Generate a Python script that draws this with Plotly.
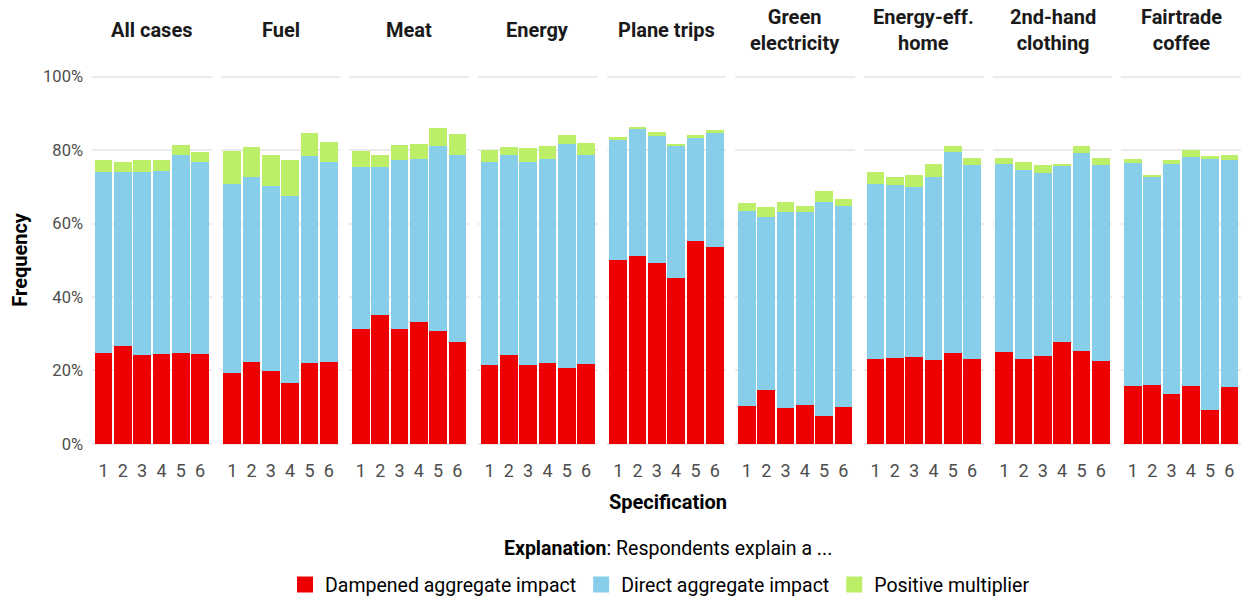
import plotly.graph_objects as go
from plotly.subplots import make_subplots

panels = ["All cases", "Fuel", "Meat", "Energy", "Plane trips",
          "Green<br>electricity", "Energy-eff.<br>home", "2nd-hand<br>clothing", "Fairtrade<br>coffee"]
specs = [1, 2, 3, 4, 5, 6]

# Cumulative tops (percent): dampened, dampened+direct, total
damp = [
    [24.7, 26.6, 24.2, 24.5, 24.7, 24.5],
    [19.3, 22.3, 19.8, 16.5, 22.0, 22.3],
    [31.3, 35.1, 31.3, 33.2, 30.7, 27.7],
    [21.5, 24.2, 21.5, 22.0, 20.6, 21.7],
    [50.1, 51.2, 49.3, 45.2, 55.3, 53.6],
    [10.3, 14.6, 9.7, 10.5, 7.5, 10.0],
    [23.1, 23.4, 23.6, 22.8, 24.7, 23.1],
    [25.0, 23.1, 23.9, 27.7, 25.3, 22.5],
    [15.7, 16.0, 13.5, 15.7, 9.2, 15.5],
]
direct_top = [
    [74.1, 74.1, 74.1, 74.4, 78.7, 76.8],
    [70.8, 72.7, 70.3, 67.5, 78.5, 76.8],
    [75.5, 75.5, 77.4, 77.6, 81.2, 78.7],
    [76.8, 78.7, 76.8, 77.6, 81.7, 78.7],
    [82.8, 85.8, 83.9, 81.2, 83.4, 84.7],
    [63.5, 61.8, 63.2, 63.2, 65.9, 64.8],
    [70.8, 70.5, 70.0, 72.7, 79.5, 76.0],
    [76.3, 74.6, 73.8, 75.7, 79.3, 76.0],
    [76.5, 72.7, 76.3, 78.2, 77.6, 77.4],
]
total_top = [
    [77.4, 76.8, 77.4, 77.4, 81.5, 79.5],
    [79.8, 80.9, 78.7, 77.4, 84.7, 82.3],
    [79.8, 78.7, 81.5, 81.7, 86.1, 84.5],
    [80.1, 80.9, 80.6, 81.2, 84.2, 82.0],
    [83.6, 86.4, 85.0, 81.5, 84.2, 85.5],
    [65.6, 64.5, 65.9, 64.8, 68.9, 66.7],
    [74.1, 72.7, 73.3, 76.3, 81.2, 77.9],
    [77.9, 76.8, 76.0, 76.3, 81.2, 77.9],
    [77.6, 73.0, 77.4, 80.1, 78.5, 78.7],
]

series_names = ["Dampened aggregate impact", "Direct aggregate impact", "Positive multiplier"]
colors = ["#EE0000", "#87CEEB", "#BCEE68"]
y_ticks = [0, 20, 40, 60, 80, 100]
y_ticktext = ["0%", "20%", "40%", "60%", "80%", "100%"]

FONT = "Roboto, 'Noto Sans', sans-serif"
W, H = 1241, 598
Y_LO, Y_HI = -0.6, 101.0
PX_PER_UNIT = (444 - 77) / 100.0
top_px = 77 - (Y_HI - 100) * PX_PER_UNIT
bot_px = 444 - Y_LO * PX_PER_UNIT
L, R = 92, 0
T, B = top_px, H - bot_px
pw = W - L - R
ph = bot_px - top_px
gap = 9


def ypap(p):
    return (bot_px - p) / ph


def xpap(p):
    return (p - L) / pw


fig = make_subplots(rows=1, cols=9, shared_yaxes=True, horizontal_spacing=gap / pw)

for i in range(9):
    d = damp[i]
    dr = [direct_top[i][k] - d[k] for k in range(6)]
    pm = [total_top[i][k] - direct_top[i][k] for k in range(6)]
    for vals, name, col in zip([d, dr, pm], series_names, colors):
        fig.add_trace(go.Bar(x=specs, y=vals, name=name, marker=dict(color=col, line=dict(width=0)),
                             showlegend=False, hovertemplate="%{y:.1f}%<extra>" + name + "</extra>"),
                      row=1, col=i + 1)

# legend entries
for name, col in zip(series_names, colors):
    fig.add_trace(go.Scatter(x=[None], y=[None], mode="markers", name=name,
                             marker=dict(symbol="square", size=22, color=col),
                             showlegend=True), row=1, col=1)

fig.update_layout(barmode="stack", bargap=0.08)

for i in range(9):
    fig.update_xaxes(row=1, col=i + 1, range=[0.4, 6.6], tickvals=specs, ticktext=[str(s) for s in specs],
                     showgrid=False, zeroline=False, showline=False, ticks="", automargin=False,
                     ticklabelstandoff=12,
                     tickfont=dict(family=FONT, size=18, color="#4D4D4D"))
fig.update_yaxes(range=[Y_LO, Y_HI], tickvals=y_ticks, ticktext=y_ticktext, automargin=False,
                 showgrid=True, gridcolor="#EBEBEB", gridwidth=1.6, zeroline=False, showline=False,
                 ticks="", ticklabelstandoff=8, tickfont=dict(family=FONT, size=16.5, color="#4D4D4D"))

annotations = []
for i, p in enumerate(panels):
    xa = "x domain" if i == 0 else f"x{i+1} domain"
    annotations.append(dict(text="<b>" + p + "</b>", x=0.5, xref=xa, y=ypap(30), yref="paper",
                            xanchor="center", yanchor="middle", showarrow=False,
                            font=dict(family=FONT, size=20, color="#1A1A1A")))
annotations.append(dict(text="<b>Specification</b>", x=xpap(668), xref="paper", y=ypap(502), yref="paper",
                        xanchor="center", yanchor="middle", showarrow=False,
                        font=dict(family=FONT, size=20, color="#000000")))
annotations.append(dict(text="<b>Frequency</b>", x=xpap(20), xref="paper", y=ypap(260), yref="paper",
                        xanchor="center", yanchor="middle", textangle=-90, showarrow=False,
                        font=dict(family=FONT, size=20, color="#000000")))
annotations.append(dict(text="<b>Explanation</b>: Respondents explain a ...", x=xpap(668), xref="paper",
                        y=ypap(549), yref="paper", xanchor="center", yanchor="middle", showarrow=False,
                        font=dict(family=FONT, size=19.5, color="#000000")))

fig.update_layout(
    width=W, height=H,
    margin=dict(l=L, r=R, t=T, b=B, autoexpand=False),
    plot_bgcolor="white", paper_bgcolor="white",
    annotations=annotations,
    showlegend=True,
    legend=dict(orientation="h", x=xpap(660), xanchor="center", y=ypap(585), yanchor="middle",
                font=dict(family=FONT, size=19.5, color="#000000"), itemsizing="trace",
                traceorder="normal", bgcolor="rgba(0,0,0,0)"),
    font=dict(family=FONT),
)

fig.write_html("out.html", config={"displayModeBar": False},
               post_script="document.body.style.margin='0';")
